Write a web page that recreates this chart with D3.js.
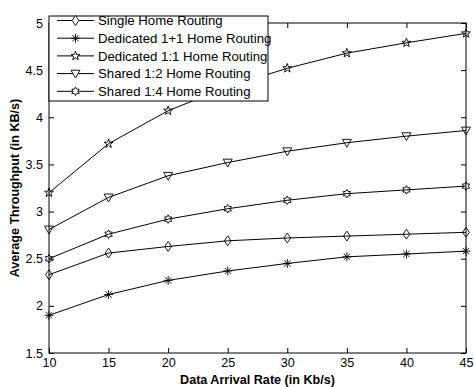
<!DOCTYPE html>
<html>
<head>
<meta charset="utf-8">
<script src="https://cdn.jsdelivr.net/npm/d3@7"></script>
<style>
  body { margin: 0; background: #fff; }
  text { font-family: "Liberation Sans", Arial, sans-serif; }
</style>
</head>
<body>
<div class="chart"></div>
<script>
const rates = [10, 15, 20, 25, 30, 35, 40, 45]
const seriesNames = ['Single Home Routing', 'Dedicated 1+1 Home Routing', 'Dedicated 1:1 Home Routing',
  'Shared 1:2 Home Routing', 'Shared 1:4 Home Routing']
const singleHome = [2.33, 2.56, 2.63, 2.69, 2.72, 2.74, 2.76, 2.78]
const dedicated11plus = [1.90, 2.12, 2.27, 2.37, 2.45, 2.52, 2.55, 2.58]
const dedicated11 = [3.20, 3.72, 4.07, 4.32, 4.52, 4.68, 4.79, 4.89]
const shared12 = [2.81, 3.15, 3.38, 3.52, 3.64, 3.73, 3.80, 3.86]
const shared14 = [2.50, 2.76, 2.92, 3.03, 3.12, 3.19, 3.23, 3.27]
const yTicks = [1.5, 2, 2.5, 3, 3.5, 4, 4.5, 5]
const markers = ['diamond', 'asterisk', 'pentagram', 'triangle', 'hexagram']

const allSeries = [singleHome, dedicated11plus, dedicated11, shared12, shared14]

const W = 474, H = 387
const margin = {top: 23, right: 8, bottom: 34, left: 49}
const width = W - margin.left - margin.right
const height = H - margin.top - margin.bottom

const svg = d3.select('.chart').append('svg')
  .attr('width', W).attr('height', H)

const x = d3.scaleLinear().domain([10, 45]).range([0, width])
const y = d3.scaleLinear().domain([1.5, 5]).range([height, 0])

const graph = svg.append('g')
  .attr('transform', `translate(${margin.left}, ${margin.top})`)

// axes, ticks inside on all four sides
const xAxis = d3.axisBottom(x).tickValues(rates).tickSize(-5).tickPadding(8).tickFormat(d3.format('d'))
const yAxis = d3.axisLeft(y).tickValues(yTicks).tickSize(-5).tickPadding(8).tickFormat(d => d)
const xTop = d3.axisTop(x).tickValues(rates).tickSize(-5).tickFormat('')
const yRight = d3.axisRight(y).tickValues(yTicks).tickSize(-5).tickFormat('')

const styleAxis = g => {
  g.select('.domain').remove()
  g.selectAll('line').attr('stroke', '#000')
  g.selectAll('text').attr('fill', '#000').attr('font-size', 12.6)
    .attr('font-family', '"Liberation Sans", Arial, sans-serif')
}

graph.append('g').attr('transform', `translate(0, ${height})`).call(xAxis).call(styleAxis)
  .selectAll('text').attr('dy', '0.45em')
graph.append('g').call(yAxis).call(styleAxis)
  .selectAll('text').attr('dx', '0.15em')
graph.append('g').call(xTop).call(styleAxis)
graph.append('g').attr('transform', `translate(${width}, 0)`).call(yRight).call(styleAxis)

graph.append('rect')
  .attr('width', width).attr('height', height)
  .attr('fill', 'none').attr('stroke', '#000').attr('stroke-width', 1)

// marker paths
const markerPath = (type, s) => {
  if (type === 'diamond') return `M0,${-s * 1.1}L${s * 0.75},0L0,${s * 1.1}L${-s * 0.75},0Z`
  if (type === 'triangle') return `M${-s},${-s * 0.75}L${s},${-s * 0.75}L0,${s * 1.0}Z`
  if (type === 'asterisk') {
    const d = s * 0.7
    return `M0,${-s}L0,${s}M${-s},0L${s},0M${-d},${-d}L${d},${d}M${-d},${d}L${d},${-d}`
  }
  if (type === 'pentagram') {
    let p = ''
    for (let i = 0; i < 10; i++) {
      const r = i % 2 ? s * 0.42 : s * 1.05
      const a = -Math.PI / 2 + i * Math.PI / 5
      p += (i ? 'L' : 'M') + (r * Math.cos(a)).toFixed(2) + ',' + (r * Math.sin(a)).toFixed(2)
    }
    return p + 'Z'
  }
  if (type === 'hexagram') {
    let p = ''
    for (let i = 0; i < 12; i++) {
      const r = i % 2 ? s * 0.55 : s * 0.95
      const a = -Math.PI / 2 + i * Math.PI / 6
      p += (i ? 'L' : 'M') + (r * Math.cos(a)).toFixed(2) + ',' + (r * Math.sin(a)).toFixed(2)
    }
    return p + 'Z'
  }
}

const line = d3.line().x((d, i) => x(rates[i])).y(d => y(d))

allSeries.forEach((vals, k) => {
  graph.append('path')
    .attr('d', line(vals))
    .attr('fill', 'none').attr('stroke', '#000').attr('stroke-width', 1)

  graph.selectAll(`.mk${k}`).data(vals).enter()
    .append('path')
    .attr('class', `mk${k}`)
    .attr('transform', (d, i) => `translate(${x(rates[i])}, ${y(d)})`)
    .attr('d', markerPath(markers[k], 4.5))
    .attr('fill', 'none').attr('stroke', '#000').attr('stroke-width', 0.9)
})

// axis labels
svg.append('text')
  .attr('x', margin.left + width / 2).attr('y', H - 3)
  .attr('text-anchor', 'middle').attr('font-size', 12.6).attr('font-weight', 'bold')
  .text('Data Arrival Rate (in Kb/s)')

svg.append('text')
  .attr('transform', `translate(18.5, ${margin.top + height / 2}) rotate(-90)`)
  .attr('text-anchor', 'middle').attr('font-size', 12.6).attr('font-weight', 'bold')
  .text('Average Throughput (in KB/s)')

// legend
const legendGroup = svg.append('g').attr('transform', 'translate(49, 16)')
legendGroup.append('rect')
  .attr('width', 219).attr('height', 85)
  .attr('fill', '#fff').attr('stroke', '#000').attr('stroke-width', 1)

seriesNames.forEach((name, k) => {
  const ly = 4.5 + k * 17.7
  const row = legendGroup.append('g').attr('transform', `translate(0, ${ly})`)
  row.append('line').attr('x1', 8).attr('x2', 45).attr('stroke', '#000')
  row.append('path').attr('transform', 'translate(26.5, 0)')
    .attr('d', markerPath(markers[k], 4.5))
    .attr('fill', '#fff').attr('stroke', '#000').attr('stroke-width', 0.9)
  row.append('text').attr('x', 49).attr('dy', '0.35em')
    .attr('font-size', 13.2).text(name)
})
</script>
</body>
</html>
